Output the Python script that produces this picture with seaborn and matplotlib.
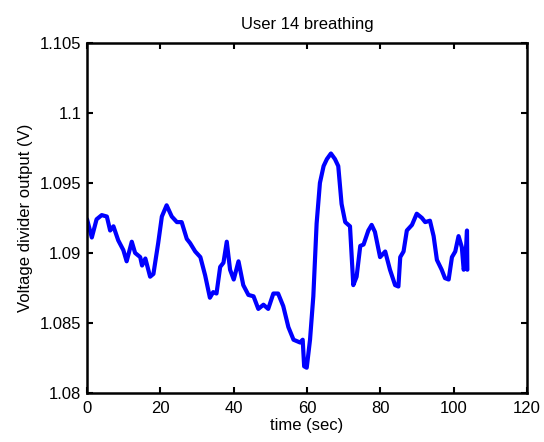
import matplotlib
matplotlib.use("Agg")
import matplotlib.pyplot as plt
import matplotlib.ticker as mticker
import seaborn as sns
import pandas as pd

time_sec = [0.0, 1.3, 2.6, 4.0, 5.4, 6.3, 7.2, 8.5, 9.9, 10.8, 12.2, 13.1, 14.5, 15.0, 15.9,
            17.2, 18.1, 19.4, 20.4, 21.7, 23.1, 24.5, 25.8, 27.2, 28.1, 29.5, 30.9, 32.2,
            33.5, 34.4, 35.3, 36.3, 37.2, 38.1, 39.0, 40.0, 41.3, 42.6, 44.0, 45.4, 46.7,
            48.1, 49.4, 50.8, 52.1, 53.5, 54.9, 56.3, 58.1, 58.8, 59.2, 59.9, 60.8, 61.7,
            62.6, 63.5, 64.5, 65.4, 66.5, 67.6, 68.5, 69.4, 70.4, 71.7, 72.6, 73.5, 74.5,
            75.4, 76.7, 77.6, 78.5, 79.9, 81.3, 82.6, 84.0, 84.9, 85.4, 86.3, 87.2, 88.6,
            89.9, 91.3, 92.2, 93.5, 94.5, 95.4, 96.7, 97.6, 98.6, 99.5, 100.4, 101.3, 102.2,
            102.7, 103.1, 103.6, 103.7]
voltage = [1.0924, 1.0911, 1.0924, 1.0927, 1.0926, 1.0916, 1.0919, 1.0909, 1.0902, 1.0894,
           1.0908, 1.0900, 1.0897, 1.0891, 1.0896, 1.0883, 1.0885, 1.0907, 1.0926, 1.0934,
           1.0926, 1.0922, 1.0922, 1.0910, 1.0907, 1.0901, 1.0897, 1.0884, 1.0868, 1.0872,
           1.0871, 1.0890, 1.0893, 1.0908, 1.0888, 1.0881, 1.0894, 1.0877, 1.0870, 1.0869,
           1.0860, 1.0863, 1.0860, 1.0871, 1.0871, 1.0862, 1.0847, 1.0838, 1.0836, 1.0838,
           1.0819, 1.0818, 1.0838, 1.0869, 1.0921, 1.0950, 1.0962, 1.0967, 1.0971, 1.0967,
           1.0962, 1.0935, 1.0922, 1.0919, 1.0877, 1.0883, 1.0905, 1.0906, 1.0916, 1.0920,
           1.0915, 1.0897, 1.0901, 1.0888, 1.0877, 1.0876, 1.0897, 1.0901, 1.0916, 1.0920,
           1.0928, 1.0925, 1.0922, 1.0923, 1.0912, 1.0895, 1.0888, 1.0882, 1.0881, 1.0897,
           1.0901, 1.0912, 1.0904, 1.0888, 1.0892, 1.0916, 1.0888]

x_ticks = [0, 20, 40, 60, 80, 100, 120]
y_ticks = [1.08, 1.085, 1.09, 1.095, 1.1, 1.105]

sns.set_style("ticks")
plt.rcParams['font.family'] = ['Liberation Sans', 'DejaVu Sans']
plt.rcParams['text.color'] = 'black'
plt.rcParams['axes.labelcolor'] = 'black'

df = pd.DataFrame({"time": time_sec, "volt": voltage})

fig = plt.figure(figsize=(5.44, 4.42), dpi=100)
ax = fig.add_axes([0.16, 0.111, 0.809, 0.792])
sns.lineplot(data=df, x="time", y="volt", ax=ax, color="#0000FF", linewidth=3.0,
             sort=False, estimator=None)

ax.set_xlim(0, 120)
ax.set_ylim(1.08, 1.105)
ax.set_xticks(x_ticks)
ax.set_yticks(y_ticks)
ax.yaxis.set_major_formatter(mticker.FuncFormatter(lambda v, p: f"{v:g}"))
ax.tick_params(direction="in", top=True, right=True, labelsize=12, length=4, width=1.5,
               colors="black")
ax.tick_params(axis="x", pad=6)
ax.tick_params(axis="y", pad=4)
for s in ax.spines.values():
    s.set_visible(True)
    s.set_linewidth(1.8)
    s.set_color("black")

ax.set_title("User 14 breathing", fontsize=12, pad=10, color="black")
ax.set_xlabel("time (sec)", fontsize=12, labelpad=1, color="black")
ax.set_ylabel("Voltage divider output (V)", fontsize=12, labelpad=5, color="black")

fig.savefig("out.png", dpi=100)
